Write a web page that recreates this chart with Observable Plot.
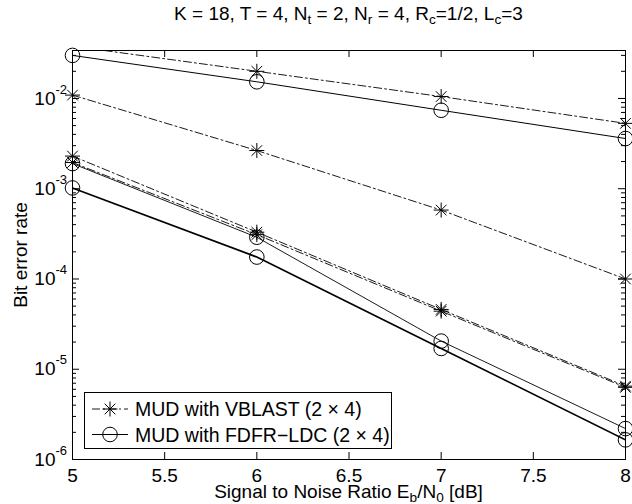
<!DOCTYPE html>
<html>
<head>
<meta charset="utf-8">
<script src="https://cdn.jsdelivr.net/npm/d3@7"></script>
<script src="https://cdn.jsdelivr.net/npm/@observablehq/plot@0.6"></script>
<style>
  body { margin: 0; background: #fff; }
  #wrap { position: relative; width: 632px; height: 504px; font-family: "Liberation Sans", Arial, Helvetica, sans-serif; color: #000; }
  .lbl { position: absolute; left: 72px; width: 553px; text-align: center; font-size: 19px; line-height: 19px; white-space: nowrap; }
  .lbl sub { font-size: 0.72em; vertical-align: -0.32em; line-height: 0; }
  #legend { position: absolute; left: 84px; top: 392px; width: 306px; height: 55px; border: 1px solid #000; background: #fff; }
  #legend svg { position: absolute; left: 0; top: 0; }
</style>
</head>
<body>
<div id="wrap">
  <div class="lbl" style="top:4px">K = 18, T = 4, N<sub>t</sub> = 2, N<sub>r</sub> = 4, R<sub>c</sub>=1/2, L<sub>c</sub>=3</div>
  <div id="chart"></div>
  <div class="lbl" style="top:482px">Signal to Noise Ratio E<sub>b</sub>/N<sub>0</sub> [dB]</div>
  <div id="legend">
    <svg width="306" height="55" font-family="Liberation Sans, Arial, Helvetica, sans-serif" font-size="19.5">
      <line x1="7" y1="16" x2="43" y2="16" stroke="#000" stroke-width="0.9" stroke-dasharray="8,3,2,3"/>
      <g stroke="#000" stroke-width="1" transform="translate(25,16)">
        <line x1="-7.5" y1="0" x2="7.5" y2="0"/><line x1="0" y1="-7.5" x2="0" y2="7.5"/>
        <line x1="-5.3" y1="-5.3" x2="5.3" y2="5.3"/><line x1="-5.3" y1="5.3" x2="5.3" y2="-5.3"/>
      </g>
      <text x="50" y="23">MUD with VBLAST (2 × 4)</text>
      <line x1="7" y1="41.5" x2="43" y2="41.5" stroke="#000" stroke-width="1"/>
      <circle cx="25" cy="41.5" r="7.3" fill="none" stroke="#000" stroke-width="1"/>
      <text x="50" y="49">MUD with FDFR−LDC (2 × 4)</text>
    </svg>
  </div>
</div>
<script>
// ---- data ----
const snr = [5, 6, 7, 8];
const vblastA = [0.038, 0.0200, 0.0105, 0.0053];
const vblastB = [0.0109, 0.00265, 0.00058, 0.000100];
const vblastC = [0.0023, 0.00033, 0.000046, 0.0000065];
const vblastD = [0.00195, 0.00031, 0.000044, 0.0000063];
const fdfrE = [0.0300, 0.0153, 0.0074, 0.0036];
const fdfrF = [0.0019, 0.00029, 0.0000205, 0.0000022];
const fdfrG = [0.00102, 0.000175, 0.000017, 0.00000165];
const xTicks = [5, 5.5, 6, 6.5, 7, 7.5, 8];
const yTicks = [1e-6, 1e-5, 1e-4, 1e-3, 1e-2];
const yTickExponents = ["-6", "-5", "-4", "-3", "-2"];
const yDomain = [1e-6, 0.034];

const W = 632, H = 504, mT = 50, mB = 45, mL = 72, mR = 7;
const pw = W - mL - mR, ph = H - mT - mB;

function rows(vals, curve, scheme, width) {
  return vals.map((ber, i) => ({snr: snr[i], ber, curve, scheme, width}));
}
const vblast = [
  ...rows(vblastA, "A", "VBLAST", 0.9),
  ...rows(vblastB, "B", "VBLAST", 0.9),
  ...rows(vblastC, "C", "VBLAST", 0.9),
  ...rows(vblastD, "D", "VBLAST", 0.9)
];
const fdfr = [
  ...rows(fdfrE, "E", "FDFR", 1.0),
  ...rows(fdfrF, "F", "FDFR", 0.9),
  ...rows(fdfrG, "G", "FDFR", 1.7)
];
const inView = r => r.ber >= yDomain[0] && r.ber <= yDomain[1];

const minor = [];
for (let k = -6; k <= -2; k++) for (let m = 2; m <= 9; m++) {
  const v = m * Math.pow(10, k);
  if (v <= yDomain[1]) minor.push(v);
}
const yTickRows = yTicks.map((v, i) => ({v, e: yTickExponents[i]}));

const star = {
  draw(ctx, size) {
    const r = Math.sqrt(size / Math.PI), d = r * Math.SQRT1_2;
    ctx.moveTo(-r, 0); ctx.lineTo(r, 0);
    ctx.moveTo(0, -r); ctx.lineTo(0, r);
    ctx.moveTo(-d, -d); ctx.lineTo(d, d);
    ctx.moveTo(-d, d); ctx.lineTo(d, -d);
  }
};

const lineMarks = (data, dash) => ["A","B","C","D","E","F","G"]
  .filter(c => data.some(r => r.curve === c))
  .map(c => {
    const d = data.filter(r => r.curve === c);
    return Plot.line(d, {x: "snr", y: "ber", stroke: "#000", strokeWidth: d[0].width,
      strokeDasharray: dash, clip: true});
  });

const chart = Plot.plot({
  width: W, height: H,
  marginTop: mT, marginBottom: mB, marginLeft: mL, marginRight: mR,
  style: {fontFamily: "Liberation Sans, Arial, Helvetica, sans-serif", fontSize: "19px", background: "#fff", color: "#000"},
  x: {domain: [5, 8]},
  y: {type: "log", domain: yDomain},
  marks: [
    ...lineMarks(vblast, "8,3,2,3"),
    ...lineMarks(fdfr, null),
    Plot.dot(vblast.filter(inView), {x: "snr", y: "ber", symbol: star, r: 7.5, stroke: "#000", strokeWidth: 1, fill: "none"}),
    Plot.dot(fdfr.filter(inView), {x: "snr", y: "ber", symbol: "circle", r: 7.3, stroke: "#000", strokeWidth: 1, fill: "none"}),
    // inward ticks on all four sides
    Plot.tickY(yTicks, {y: d => d, insetRight: pw - 7, stroke: "#000"}),
    Plot.tickY(yTicks, {y: d => d, insetLeft: pw - 7, stroke: "#000"}),
    Plot.tickY(minor, {y: d => d, insetRight: pw - 4, stroke: "#000"}),
    Plot.tickY(minor, {y: d => d, insetLeft: pw - 4, stroke: "#000"}),
    Plot.tickX(xTicks, {x: d => d, insetTop: ph - 7, stroke: "#000"}),
    Plot.tickX(xTicks, {x: d => d, insetBottom: ph - 7, stroke: "#000"}),
    Plot.frame({stroke: "#000", strokeWidth: 1}),
    Plot.axisX({ticks: xTicks, tickSize: 0, tickPadding: 9, tickFormat: d => String(d), label: null}),
    Plot.axisY({ticks: yTicks, tickSize: 0, tickPadding: 17, tickFormat: () => "10",
      label: "Bit error rate", labelAnchor: "center", labelArrow: "none", labelOffset: 59}),
    // exponents of the 10^k tick labels
    Plot.text(yTickRows, {y: "v", text: "e", frameAnchor: "left", textAnchor: "start",
      dx: -17, dy: -9, fontSize: 13, fill: "#000"})
  ]
});
document.getElementById("chart").appendChild(chart);
</script>
</body>
</html>
